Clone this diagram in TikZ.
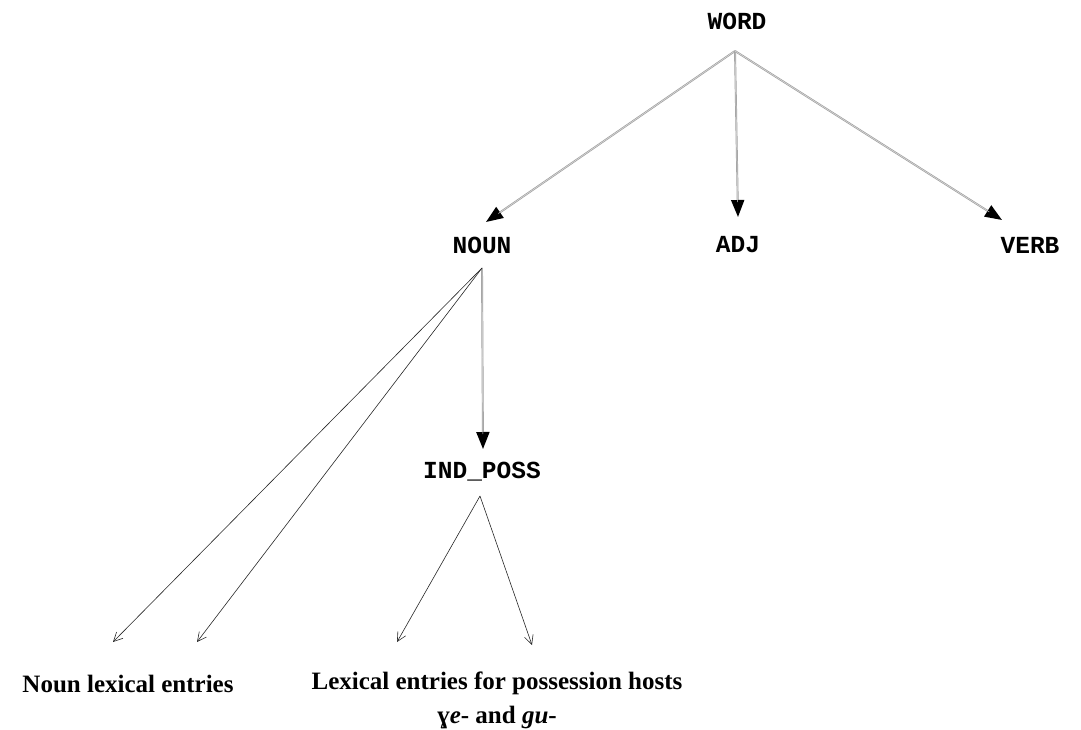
\documentclass[tikz,border=0pt]{standalone}
\usepackage{fontspec}
\setmainfont{Liberation Serif}
\newfontfamily\codefont{Liberation Mono}
\usetikzlibrary{arrows.meta}
\begin{document}
\begin{tikzpicture}[x=1pt,y=-1pt,
  cat/.style={font=\codefont\bfseries\fontsize{24.5}{28}\selectfont, inner sep=0pt, anchor=base},
  leaf/.style={font=\bfseries\fontsize{25}{34}\selectfont, inner sep=0pt, align=center},
  isa/.style={draw=gray!75, line width=1.9pt,
    -{Triangle[length=17pt,width=13pt,color=black]},
    postaction={draw=gray!25, line width=0.5pt, -, shorten >=15pt}},
  entry/.style={draw=black!85, line width=0.6pt,
    -{Straight Barb[length=9pt,width=9pt,line width=0.6pt]}}]
\useasboundingbox (0,0) rectangle (1081,730);

% category labels (common baselines)
\node[cat] (word) at (737,30) {WORD};
\node[cat] (noun) at (482,253) {NOUN};
\node[cat] (adj)  at (738,252) {ADJ};
\node[cat] (verb) at (1030,253) {VERB};
\node[cat] (indposs) at (482,478) {IND\_POSS};

% lexical entry labels
\node[leaf] (nounlex) at (128,684) {Noun lexical entries};
\node[leaf] (posslex) at (497,700) {Lexical entries for possession hosts\\
  ɣ\textit{e}- and \textit{gu}-};

% branching points and arrow ends
\coordinate (wordfork) at (735,51);
\coordinate (nounfork) at (482,268);
\coordinate (possfork) at (480,496);
\coordinate (nountip) at (486,222);
\coordinate (adjtip) at (738,217);
\coordinate (verbtip) at (1002,220);
\coordinate (posstip) at (483,449);
\coordinate (lexa) at (113,642);
\coordinate (lexb) at (197,642);
\coordinate (lexc) at (397,642);
\coordinate (lexd) at (532,645);

% WORD hierarchy
\draw[isa] (wordfork) -- (nountip);
\draw[isa] (wordfork) -- (adjtip);
\draw[isa] (wordfork) -- (verbtip);
\draw[isa] (nounfork) -- (posstip);

% links to lexical entries
\draw[entry] (nounfork) -- (lexa);
\draw[entry] (nounfork) -- (lexb);
\draw[entry] (possfork) -- (lexc);
\draw[entry] (possfork) -- (lexd);
\end{tikzpicture}
\end{document}
